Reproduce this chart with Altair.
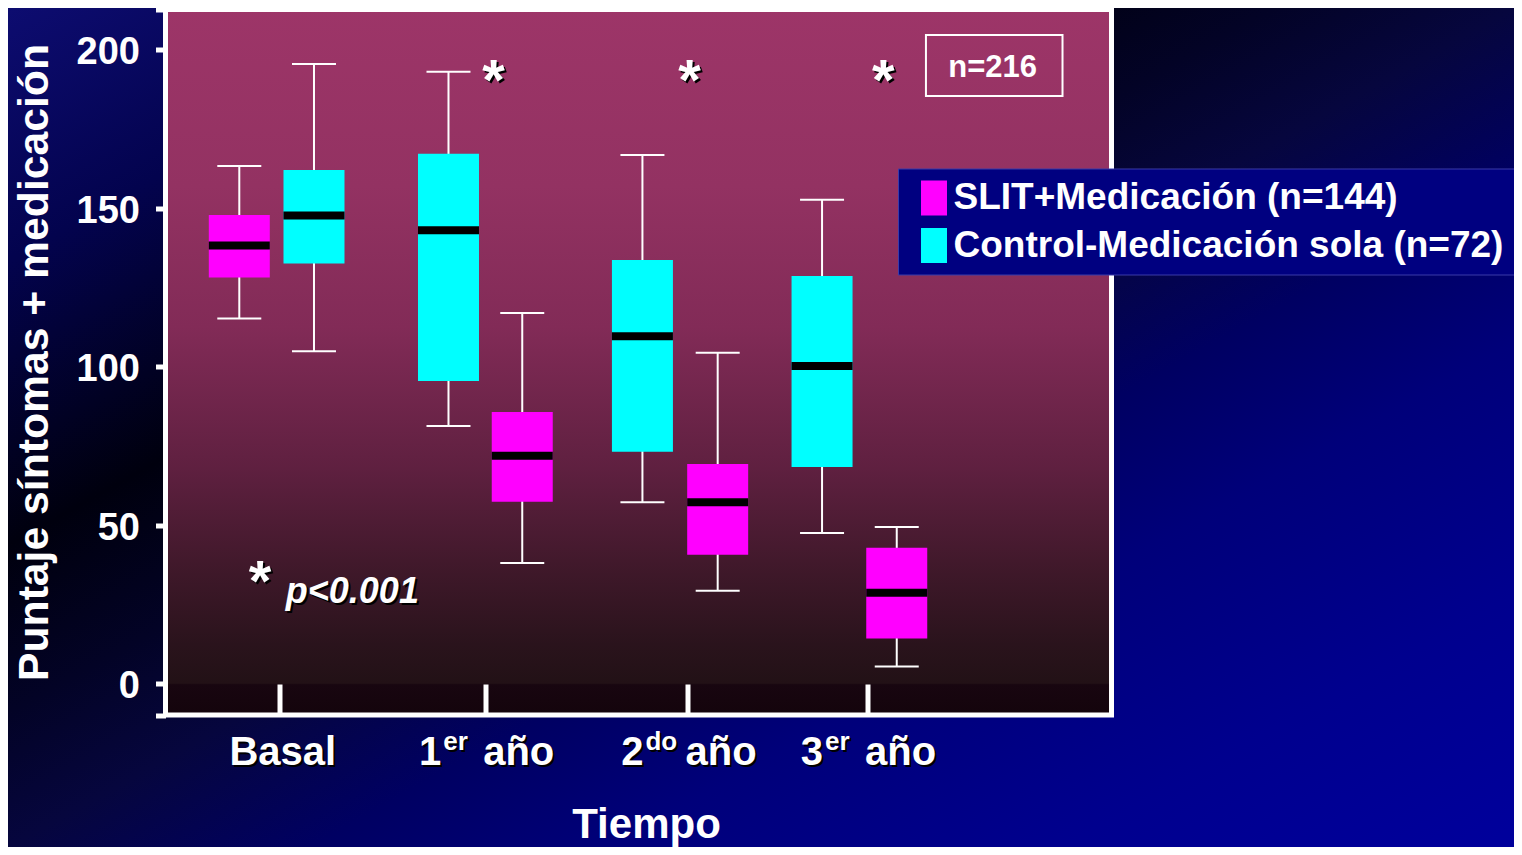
import altair as alt
import pandas as pd

FONT = "Liberation Sans"

# ---------------- data ----------------
categories = ["Basal", "1er año", "2do año", "3er año"]
time_pos = [1.163, 3.362, 5.523, 7.442]          # position of each time point on the x scale

series = ["SLIT+Medicación (n=144)", "Control-Medicación sola (n=72)"]

slit_pos = [0.735, 3.758, 5.846, 7.759]
slit_low = [115.2, 38.1, 29.4, 5.5]
slit_q1 = [128.1, 57.4, 40.7, 14.3]
slit_med = [138.2, 71.9, 57.3, 28.7]
slit_q3 = [147.8, 85.7, 69.3, 42.9]
slit_high = [163.3, 116.9, 104.4, 49.5]

ctrl_pos = [1.533, 2.970, 5.042, 6.961]
ctrl_low = [104.9, 81.3, 57.3, 47.6]
ctrl_q1 = [132.5, 95.5, 73.2, 68.4]
ctrl_med = [147.7, 143.0, 109.6, 100.2]
ctrl_q3 = [162.0, 167.1, 133.6, 128.6]
ctrl_high = [195.4, 193.0, 166.7, 152.6]

y_ticks = [-9.8, 0, 50, 100, 150, 200, 212.6]
y_domain = [-9.8, 212.6]
x_domain = [0, 10]

sig_pos = [3.451, 5.544, 7.616]
sig_y = [184.1, 184.1, 184.1]
note_star = {"pos": [0.957], "y": [26.2]}
note_p = {"pos": [1.232], "y": [25.5], "text": ["p<0.001"]}
n_box = {"x1": [8.071], "x2": [9.530], "y1": [204.6], "y2": [185.3]}
n_text = {"pos": [8.784], "y": [191.3], "text": ["n=216"]}

# ---------------- tables ----------------
boxes = pd.DataFrame({
    "serie": [series[0]] * 4 + [series[1]] * 4,
    "pos": slit_pos + ctrl_pos,
    "low": slit_low + ctrl_low,
    "q1": slit_q1 + ctrl_q1,
    "med": slit_med + ctrl_med,
    "q3": slit_q3 + ctrl_q3,
    "high": slit_high + ctrl_high,
})
one = pd.DataFrame({"a": [0]})
basal = pd.DataFrame({"pos": [time_pos[0]], "label": [categories[0]]})
years = pd.DataFrame({
    "pos": time_pos[1:],
    "num": [c[0] for c in categories[1:]],
    "sup": [c[1:3] for c in categories[1:]],
    "word": [c.split(" ")[1] for c in categories[1:]],
})
sig = pd.DataFrame({"pos": sig_pos, "y": sig_y, "t": ["*"] * 3})

W, H = 946, 705.5
PAD = {"left": 157.5, "top": 1.5, "right": 402.5, "bottom": 132}

xs = alt.Scale(domain=x_domain, nice=False, zero=False)
ys = alt.Scale(domain=y_domain, nice=False, zero=False)

x_axis = alt.Axis(
    orient="top", offset=-H, values=time_pos, labels=False, domain=False, grid=False,
    tickColor="white", tickWidth=5, tickSize=31, tickCap="butt",
    title="Tiempo", titleFont=FONT, titleFontSize=42, titleFontWeight="bold",
    titleColor="white", titleX=480.5, titleY=122, titleAlign="center",
    titleBaseline="alphabetic", zindex=1,
)
y_axis = alt.Axis(
    values=y_ticks, labelExpr="datum.value < -1 || datum.value > 201 ? '' : datum.label",
    domain=False, grid=False, tickColor="white", tickWidth=5, tickSize=10, tickCap="butt",
    labelFont=FONT, labelFontSize=38, labelFontWeight="bold", labelColor="white",
    labelPadding=16, labelOverlap=False, labelFlush=False, labelOffset=3,
    title="Puntaje síntomas + medicación", titleFont=FONT, titleFontSize=42.7,
    titleFontWeight="bold", titleColor="white", titleAngle=270, titleX=-118.5,
    titleY=352.5, titleAlign="center", titleBaseline="alphabetic", zindex=1,
)


def X(field):
    return alt.X(field, type="quantitative", scale=xs, axis=x_axis)


def Y(field):
    return alt.Y(field, type="quantitative", scale=ys, axis=y_axis)


bg_grad = {
    "gradient": "linear", "x1": 0, "y1": 0, "x2": 1, "y2": 1,
    "stops": [
        {"offset": 0, "color": "#0d0c70"},
        {"offset": 0.15, "color": "#03034e"},
        {"offset": 0.32, "color": "#00000e"},
        {"offset": 0.42, "color": "#030326"},
        {"offset": 0.5, "color": "#06063e"},
        {"offset": 0.6, "color": "#000062"},
        {"offset": 0.7, "color": "#00007a"},
        {"offset": 0.85, "color": "#00008e"},
        {"offset": 1, "color": "#00009c"},
    ],
}
plot_grad = {
    "gradient": "linear", "x1": 0, "y1": 0, "x2": 0, "y2": 1,
    "stops": [
        {"offset": 0, "color": "#9d3568"},
        {"offset": 0.25, "color": "#933262"},
        {"offset": 0.45, "color": "#822b57"},
        {"offset": 0.65, "color": "#5f2040"},
        {"offset": 0.8, "color": "#3e1829"},
        {"offset": 0.9, "color": "#2a131c"},
        {"offset": 0.955, "color": "#221116"},
        {"offset": 0.957, "color": "#180610"},
        {"offset": 1, "color": "#14040c"},
    ],
}

background = alt.Chart(one).mark_rect(fill=bg_grad).encode(
    x=alt.value(-PAD["left"]), x2=alt.value(W + PAD["right"]),
    y=alt.value(-PAD["top"]), y2=alt.value(H + PAD["bottom"]),
)
plot_bg = alt.Chart(one).mark_rect(fill=plot_grad).encode(
    x=alt.value(0), x2=alt.value("width"), y=alt.value(0), y2=alt.value("height"),
)

base = alt.Chart(boxes)
whiskers = base.mark_rule(color="white", strokeWidth=2).encode(
    x=X("pos"), y=Y("low"), y2="high"
)
caps = base.transform_fold(["low", "high"], as_=["k", "v"]).mark_tick(
    orient="horizontal", color="white", thickness=2, size=44, opacity=1
).encode(x=X("pos"), y=Y("v"))
bars = base.mark_bar(width=61, opacity=1).encode(
    x=X("pos"), y=Y("q1"), y2="q3",
    color=alt.Color(
        "serie:N",
        scale=alt.Scale(domain=series, range=["#ff00ff", "#00ffff"]),
        legend=alt.Legend(
            orient="none", legendX=732.5, legendY=159, direction="vertical",
            title=None, fillColor="#000080", strokeColor="#3a3aa8", padding=11,
            symbolType="M-0.743,-1H0.743V1H-0.743Z", symbolSize=1225,
            symbolOffset=6.5, symbolStrokeWidth=0, symbolOpacity=1,
            labelFont=FONT, labelFontSize=37, labelFontWeight="bold",
            labelColor="white", labelLimit=2000, labelOffset=1, rowPadding=9.5,
        ),
    ),
)
medians = base.mark_tick(
    orient="horizontal", color="black", thickness=8, size=61, opacity=1
).encode(x=X("pos"), y=Y("med"))
frame = alt.Chart(one).mark_rect(fillOpacity=0, stroke="white", strokeWidth=5).encode(
    x=alt.value(0), x2=alt.value("width"), y=alt.value(0), y2=alt.value("height"),
)

nbox = alt.Chart(pd.DataFrame(n_box)).mark_rect(
    fillOpacity=0, stroke="white", strokeWidth=2
).encode(x=X("x1"), x2="x2", y=Y("y1"), y2="y2")
ntext = alt.Chart(pd.DataFrame(n_text)).mark_text(
    font=FONT, fontSize=31, fontWeight="bold", color="white", align="center",
    baseline="alphabetic",
).encode(x=X("pos"), y=Y("y"), text="text:N")


def shadowed(chart_fn):
    return [chart_fn("black", 2, 2), chart_fn("white", 0, 0)]


def sig_layer(c, ox, oy):
    return alt.Chart(sig).mark_text(
        font=FONT, fontSize=58, fontWeight="bold", color=c, align="center",
        baseline="alphabetic", dx=ox, dy=oy,
    ).encode(x=X("pos"), y=Y("y"), text="t:N")


def note_star_layer(c, ox, oy):
    d = pd.DataFrame(note_star)
    d["t"] = "*"
    return alt.Chart(d).mark_text(
        font=FONT, fontSize=58, fontWeight="bold", color=c, align="center",
        baseline="alphabetic", dx=ox, dy=oy,
    ).encode(x=X("pos"), y=Y("y"), text="t:N")


def note_p_layer(c, ox, oy):
    return alt.Chart(pd.DataFrame(note_p)).mark_text(
        font=FONT, fontSize=36, fontWeight="bold", fontStyle="italic", color=c,
        align="left", baseline="alphabetic", dx=ox, dy=oy,
    ).encode(x=X("pos"), y=Y("y"), text="text:N")


def basal_layer(c, ox, oy):
    return alt.Chart(basal).mark_text(
        font=FONT, fontSize=40, fontWeight="bold", color=c, align="center",
        baseline="alphabetic", dx=3.5 + ox, dy=50 + oy,
    ).encode(x=X("pos"), y=alt.value("height"), text="label:N")


def num_layer(c, ox, oy):
    return alt.Chart(years).mark_text(
        font=FONT, fontSize=40, fontWeight="bold", color=c, align="right",
        baseline="alphabetic", dx=-44 + ox, dy=50 + oy,
    ).encode(x=X("pos"), y=alt.value("height"), text="num:N")


def sup_layer(c, ox, oy):
    return alt.Chart(years).mark_text(
        font=FONT, fontSize=26, fontWeight="bold", color=c, align="left",
        baseline="alphabetic", dx=-42 + ox, dy=35 + oy,
    ).encode(x=X("pos"), y=alt.value("height"), text="sup:N")


def word_layer(c, ox, oy):
    return alt.Chart(years).mark_text(
        font=FONT, fontSize=40, fontWeight="bold", color=c, align="left",
        baseline="alphabetic", dx=-2 + ox, dy=50 + oy,
    ).encode(x=X("pos"), y=alt.value("height"), text="word:N")


texts = []
for fn in [sig_layer, note_star_layer, note_p_layer, basal_layer, num_layer, sup_layer, word_layer]:
    texts += shadowed(fn)

chart = alt.layer(
    background, plot_bg, whiskers, caps, bars, medians, frame, nbox, ntext, *texts
).properties(
    width=W, height=H,
    autosize=alt.AutoSizeParams(type="none"),
    padding=PAD,
    background="#00003a",
).configure_view(stroke="transparent")

chart.save("out.html", embed_options={"renderer": "svg", "actions": False})
